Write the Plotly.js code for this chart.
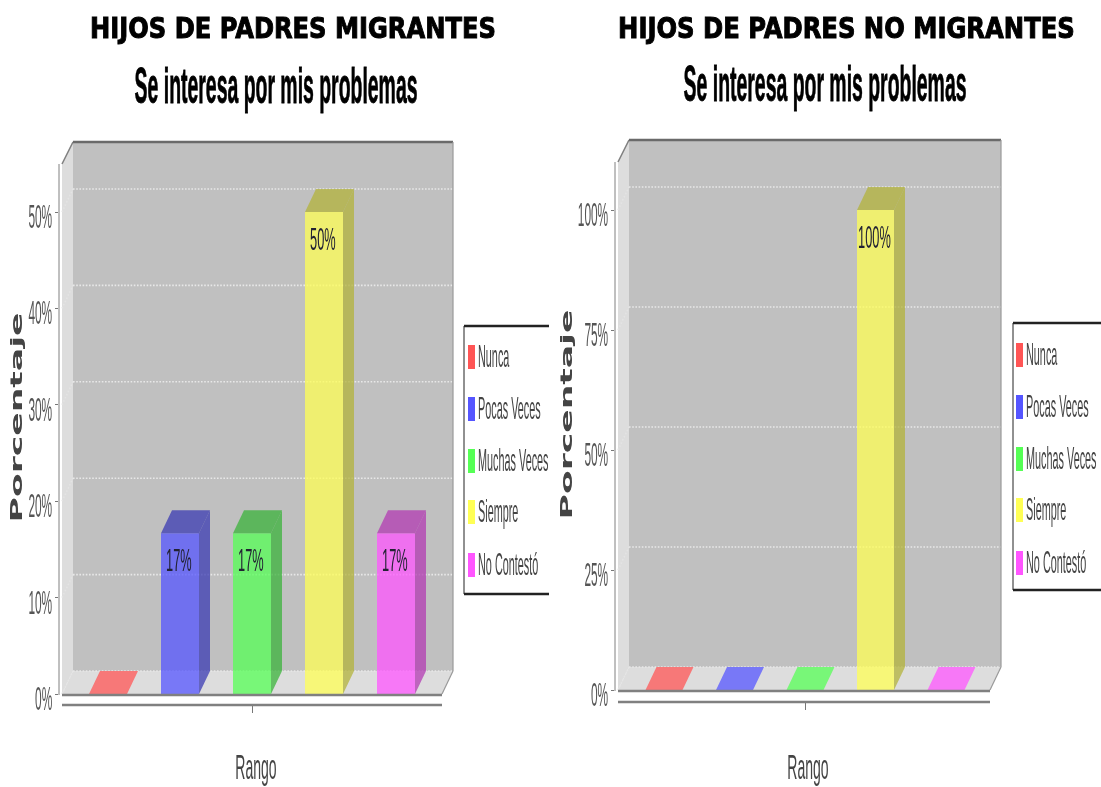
<!DOCTYPE html>
<html><head><meta charset="utf-8">
<script src="https://cdn.plot.ly/plotly-3.0.1.min.js"></script>
<style>html,body{margin:0;padding:0;background:#fff}#chart{width:1101px;height:787px;filter:blur(0.45px)}</style>
</head><body><div id="chart"></div>
<script>
const categories = ['Nunca','Pocas Veces','Muchas Veces','Siempre','No Contestó'];
const valuesMigrantes = [0, 16.67, 16.67, 50, 16.67];
const valuesNoMigrantes = [0, 0, 0, 100, 0];
const ticksMigrantes = [0, 10, 20, 30, 40, 50];
const ticksNoMigrantes = [0, 25, 50, 75, 100];
const rgb = [[255,85,85],[85,85,255],[85,255,85],[255,255,85],[255,85,255]];
const headers = ['HIJOS DE PADRES MIGRANTES','HIJOS DE PADRES NO MIGRANTES'];
const subtitle = 'Se interesa por mis problemas';
const W = 1101, H = 787, depthX = 11, depthY = 23;
const SQ = '"Liberation Sans",sans-serif';
const A = 0.75;
const rgba = (c,k=1) => `rgba(${c.map(v=>Math.round(v*k)).join(',')},${A})`;

const panels = [
 {xa:'x',ya:'y',values:valuesMigrantes,ticks:ticksMigrantes,axisLeft:59,frontLeft:62,frontRight:442,back:141,zero:694,perUnit:9.64,center:252,step:72,barW:38,axisY:705,titleCenter:17,standoff:30},
 {xa:'x2',ya:'y2',values:valuesNoMigrantes,ticks:ticksNoMigrantes,axisLeft:615,frontLeft:618,frontRight:990,back:139,zero:690,perUnit:4.8,center:805,step:70.5,barW:37,axisY:702,titleCenter:567,standoff:28}
];
const traces = [], shapes = [], layout = {
  width:W,height:H,margin:{l:0,r:0,t:0,b:0},autosize:false,paper_bgcolor:'#fff',plot_bgcolor:'rgba(0,0,0,0)',
  showlegend:false,barmode:'overlay',font:{family:SQ,color:'#555'},annotations:[],shapes
};
const px = (o) => Object.assign({xref:'x3',yref:'y3',layer:'above'},o);
panels.forEach((p,idx)=>{
  const sfx = idx?'2':'';
  const dx = depthX/p.step, dy = depthY/p.perUnit;
  const toX = v => 2 + (v-p.center)/p.step;
  const right = p.frontRight + depthX;
  const yMax = (p.zero-p.back)/p.perUnit;
  const fx0 = toX(p.frontLeft), fx1 = toX(p.frontRight), topFront = yMax-dy;
  layout['xaxis'+sfx] = {domain:[p.axisLeft/W,right/W],range:[toX(p.axisLeft),toX(right)],anchor:'free',position:1-p.axisY/H,
    showgrid:false,zeroline:false,showline:false,tickmode:'array',tickvals:[2],ticktext:[' '],ticks:'outside',ticklen:7,tickcolor:'#777',tickwidth:1,
    title:{text:'Rango',standoff:p.standoff,font:{family:SQ,size:36,color:'#444'}}};
  layout['yaxis'+sfx] = {domain:[1-p.zero/H,1-p.back/H],range:[0,yMax],anchor:'x'+sfx,
    showgrid:false,zeroline:false,showline:false,tickmode:'array',tickvals:p.ticks,ticktext:p.ticks.map(t=>t+'%'),ticks:'outside',ticklen:3,tickcolor:'#777',tickwidth:1,
    ticklabelstandoff:-4,tickfont:{family:SQ,size:34,color:'#555'},
    title:{text:'Porcentaje',standoff:14,font:{family:'"DejaVu Sans"',size:16,weight:700,color:'#444'}}};
  const xr=p.xa, yr=p.ya;
  const poly = (path,fill) => shapes.push({type:'path',path,xref:xr,yref:yr,fillcolor:fill,line:{width:0},layer:'below'});
  const ln = (x0,y0,x1,y1,color,width,dash) => shapes.push({type:'line',xref:xr,yref:yr,x0,y0,x1,y1,line:{color,width,dash:dash||'solid'},layer:'below'});
  poly(`M${fx0+dx},${dy}L${fx1+dx},${dy}L${fx1+dx},${yMax}L${fx0+dx},${yMax}Z`,'#C0C0C0');
  poly(`M${fx0},0L${fx0+dx},${dy}L${fx0+dx},${yMax}L${fx0},${topFront}Z`,'#DDDDDD');
  poly(`M${fx0},0L${fx0+dx},${dy}L${fx1+dx},${dy}L${fx1},0Z`,'#DDDDDD');
  p.ticks.forEach(t=>{
    ln(fx0,t,fx0+dx,t+dy,'#E4E4E4',1.5,'1.5px,2px');
    ln(fx0+dx,t+dy,fx1+dx,t+dy,'#E8E8E8',1.6,'1.6px,1.6px');
  });
  const backPx = p.back+1, frontTopPx = p.back+depthY;
  shapes.push(px({type:'line',x0:p.frontLeft,y0:frontTopPx,x1:p.frontLeft+depthX,y1:backPx,line:{color:'#808080',width:1.5}}));
  shapes.push(px({type:'line',x0:p.frontLeft+depthX,y0:backPx,x1:right,y1:backPx,line:{color:'#6a6a6a',width:2.5}}));
  shapes.push(px({type:'line',x0:right,y0:backPx,x1:right,y1:p.zero-depthY,line:{color:'#999',width:1.2}}));
  shapes.push(px({type:'line',x0:right,y0:p.zero-depthY,x1:p.frontRight,y1:p.zero,line:{color:'#999',width:1.2}}));
  shapes.push(px({type:'line',x0:p.frontLeft,y0:p.zero+1,x1:p.frontRight,y1:p.zero+1,line:{color:'#808080',width:2.5}}));
  shapes.push(px({type:'line',x0:p.axisLeft,y0:p.zero+1,x1:p.axisLeft,y1:frontTopPx,line:{color:'#808080',width:1}}));
  shapes.push(px({type:'line',x0:p.frontLeft,y0:p.axisY,x1:p.frontRight,y1:p.axisY,line:{color:'#808080',width:2.5}}));
  const half = p.barW/p.step/2;
  categories.forEach((c,i)=>{
    const v = p.values[i], l=i-half, r=i+half;
    if(v>0){
      traces.push({type:'bar',name:c,x:[i],y:[v],width:p.barW/p.step,xaxis:xr,yaxis:yr,marker:{color:rgba(rgb[i]),line:{width:0}},hoverinfo:'name+y'});
      traces.push({type:'scatter',mode:'lines',x:[r,r+dx,r+dx,r,r],y:[0,dy,v+dy,v,0],fill:'toself',fillcolor:rgba(rgb[i],.7),line:{width:0},xaxis:xr,yaxis:yr,hoverinfo:'skip'});
    }
    traces.push({type:'scatter',mode:'lines',x:[l,r,r+dx,l+dx,l],y:[v,v,v+dy,v+dy,v],fill:'toself',fillcolor:rgba(rgb[i],v>0?.7:1),line:{width:0},xaxis:xr,yaxis:yr,hoverinfo:'skip'});
  });
  const shown = p.values.map((v,i)=>[v,i]).filter(a=>a[0]>0);
  traces.push({type:'scatter',mode:'text',x:shown.map(a=>a[1]-.015),y:shown.map(a=>a[0]-30/p.perUnit),text:shown.map(a=>Math.round(a[0])+'%'),
    textposition:'middle center',textfont:{family:SQ,size:32,color:'#223'},xaxis:xr,yaxis:yr,hoverinfo:'skip'});
});
layout.xaxis3 = {domain:[0,1],range:[0,W],visible:false,fixedrange:true};
layout.yaxis3 = {domain:[0,1],range:[H,0],visible:false,fixedrange:true,anchor:'x3'};
const legends = [
 {left:464,right:549,top:326,bottom:594,swX:468,textX:478,ys:[357,409,461,512,565]},
 {left:1013,right:1101,top:323,bottom:590,swX:1016,textX:1026,ys:[355,407,459,510,563]}
];
legends.forEach(g=>{
  shapes.push(px({type:'line',x0:g.left,x1:g.right,y0:g.top,y1:g.top,line:{color:'#222',width:2.5}}));
  shapes.push(px({type:'line',x0:g.left,x1:g.right,y0:g.bottom,y1:g.bottom,line:{color:'#222',width:2.5}}));
  shapes.push(px({type:'line',x0:g.left,x1:g.left,y0:g.top,y1:g.bottom,line:{color:'#222',width:1}}));
  g.ys.forEach((y,i)=>shapes.push(px({type:'rect',x0:g.swX,x1:g.swX+7,y0:y-12,y1:y+12,fillcolor:`rgb(${rgb[i].join(',')})`,line:{width:0}})));
  traces.push({type:'scatter',mode:'text',x:g.ys.map(()=>g.textX),y:g.ys.map(y=>y+2),text:categories,textposition:'middle right',
    textfont:{family:SQ,size:31,color:'#444'},xaxis:'x3',yaxis:'y3',hoverinfo:'skip',cliponaxis:false});
});
const titleSpec = [
 {t:headers[0],x:293,y:28,len:406,size:28,font:'"DejaVu Sans"',stroke:1},
 {t:headers[1],x:846,y:28,len:457,size:28,font:'"DejaVu Sans"',stroke:1},
 {t:subtitle,x:276,y:86,len:283,size:50,font:SQ,stroke:.8},
 {t:subtitle,x:825,y:84,len:283,size:50,font:SQ,stroke:.8}
];
titleSpec.forEach(s=>layout.annotations.push({text:s.t,xref:'x3',yref:'y3',x:s.x,y:s.y,showarrow:false,xanchor:'center',yanchor:'middle',
  font:{family:s.font,size:s.size,weight:700,color:'#000'}}));

Plotly.newPlot('chart',traces,layout,{displayModeBar:false,staticPlot:true}).then(gd=>{
  const scaleX=(el,f)=>{
    const x=parseFloat(el.getAttribute('x'))||0, prev=el.getAttribute('transform')||'';
    el.setAttribute('transform',`${prev} translate(${x},0) scale(${f},1) translate(${-x},0)`);
  };
  gd.querySelectorAll('.ytick text, .y2tick text').forEach(el=>{scaleX(el,.35);el.setAttribute('dy','4');});
  gd.querySelectorAll('.textpoint text').forEach(el=>scaleX(el,categories.includes(el.textContent)?.35:.40));
  gd.querySelectorAll('.xtitle, .x2title').forEach(el=>scaleX(el,.39));
  [['.ytitle',0],['.y2title',1]].forEach(([sel,i])=>{
    const el=gd.querySelector(sel); if(!el) return;
    const f=210/el.getComputedTextLength(), y=el.getAttribute('y');
    let X=parseFloat(el.getAttribute('x'));
    const r=el.getBoundingClientRect();
    X+=panels[i].titleCenter-(r.left+r.right)/2;
    el.setAttribute('x',X);
    el.setAttribute('transform',`rotate(-90,${X},${y}) translate(${X},0) scale(${f},1) translate(${-X},0)`);
  });
  gd.querySelectorAll('.annotation-text').forEach((el,i)=>{
    scaleX(el,titleSpec[i].len/el.getComputedTextLength());
    el.style.stroke='#000'; el.style.strokeWidth=titleSpec[i].stroke+'px';
  });
});
</script></body></html>
